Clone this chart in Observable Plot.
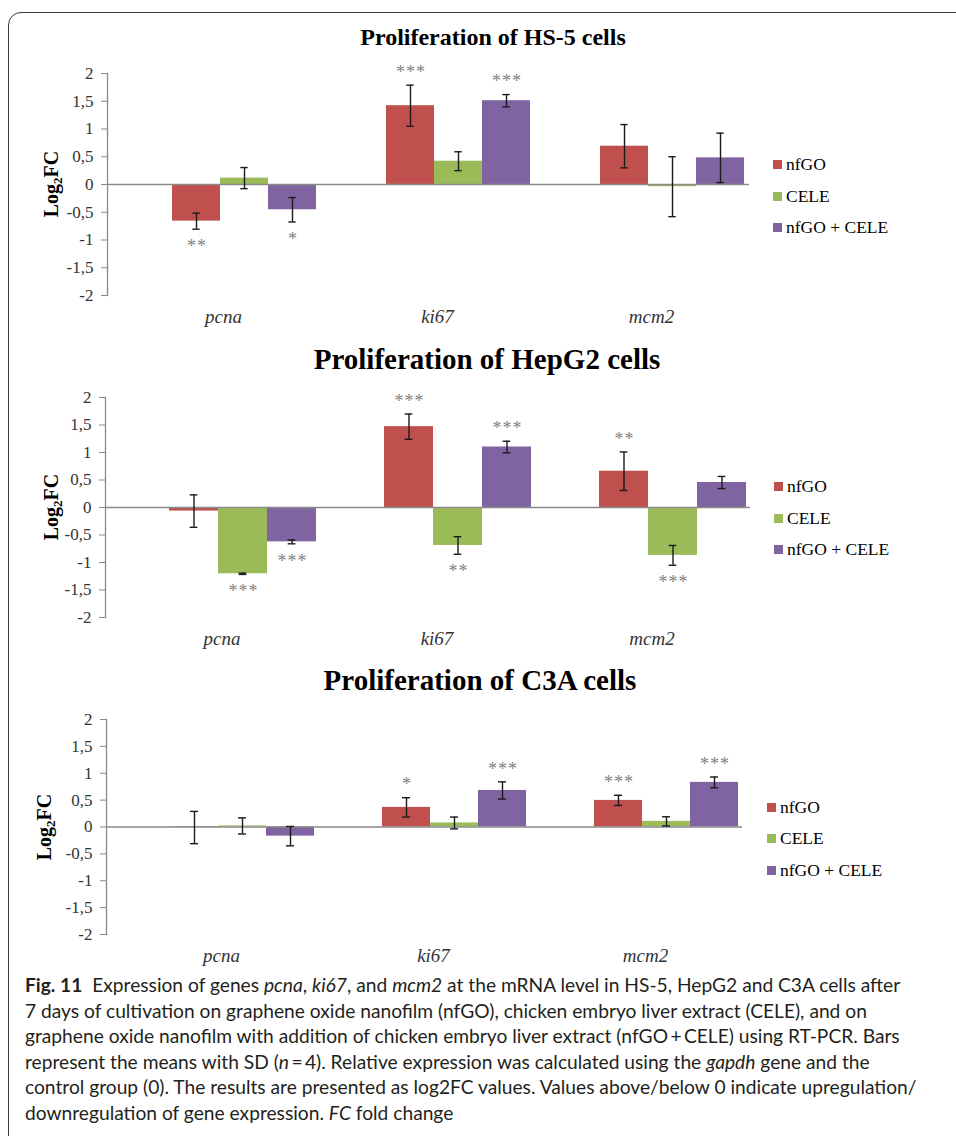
<!DOCTYPE html>
<html><head><meta charset="utf-8">
<script src="https://cdn.jsdelivr.net/npm/d3@7"></script>
<script src="https://cdn.jsdelivr.net/npm/@observablehq/plot@0.6"></script>
<style>
html,body{margin:0;padding:0;background:#fff;}
body{width:956px;height:1136px;position:relative;overflow:hidden;font-family:"Liberation Serif","Times New Roman",serif;}
#frame{position:absolute;left:8px;top:12px;width:1000px;height:1200px;border:1.4px solid #3a3a3a;border-top-left-radius:13px;box-sizing:border-box;}
.panel{position:absolute;left:0;}
.panel g[aria-label="text"] text{letter-spacing:1px;}
.title{position:absolute;width:600px;text-align:center;font-weight:bold;line-height:1;color:#000;white-space:nowrap;}
.ylab{position:absolute;font-weight:bold;font-size:20px;line-height:1;transform:translate(-50%,-50%) rotate(-90deg);white-space:nowrap;color:#000;}
.ylab sub{font-size:13px;vertical-align:-4px;line-height:0;}
.legend{position:absolute;font-size:17.5px;color:#000;}
.legend .row{display:flex;align-items:center;height:31.5px;line-height:1;white-space:nowrap;}
.legend .sw{width:9px;height:9px;margin-right:4px;flex:none;}
.cap{position:absolute;left:25px;top:972px;font-family:Lato,sans-serif;font-size:19.2px;line-height:25.6px;color:#231f20;white-space:nowrap;}
</style></head><body>
<div id="frame"></div>
<div id="root"></div>
<script>
// ---- data ----
const genes = ["pcna", "ki67", "mcm2"];
const treatments = ["nfGO", "CELE", "nfGO + CELE"];
const colors = ["#C0504D", "#9BBB59", "#8064A2"];
const yTicks = [-2, -1.5, -1, -0.5, 0, 0.5, 1, 1.5, 2];
const titles = ["Proliferation of HS-5 cells", "Proliferation of HepG2 cells", "Proliferation of C3A cells"];

// rows = genes (pcna, ki67, mcm2); columns = treatments (nfGO, CELE, nfGO + CELE)
const hs5Mean = [[-0.66, 0.115, -0.455], [1.42, 0.42, 1.51], [0.69, -0.04, 0.48]];
const hs5Sd = [[0.145, 0.19, 0.22], [0.37, 0.17, 0.11], [0.39, 0.54, 0.445]];
const hs5Sig = [["**", "", "*"], ["***", "", "***"], ["", "", ""]];

const hepg2Mean = [[-0.065, -1.205, -0.625], [1.47, -0.69, 1.10], [0.66, -0.87, 0.455]];
const hepg2Sd = [[0.295, 0.012, 0.035], [0.23, 0.16, 0.105], [0.35, 0.18, 0.11]];
const hepg2Sig = [["", "***", "***"], ["***", "**", "***"], ["**", "***", ""]];

const c3aMean = [[-0.01, 0.02, -0.17], [0.365, 0.075, 0.68], [0.495, 0.105, 0.83]];
const c3aSd = [[0.30, 0.15, 0.18], [0.18, 0.11, 0.16], [0.095, 0.085, 0.10]];
const c3aSig = [["", "", ""], ["*", "", "***"], ["***", "", "***"]];

// ---- layout ----
const layout = [
  {top: 60, height: 270, mt: 13, mb: 35, ml: 106, mr: 207, xr: [64, 210], titleSize: 24, titleTop: 25, titleCx: 493, legTop: 149, legLeft: 773, ylabX: 51},
  {top: 384, height: 268, mt: 13, mb: 35, ml: 105, mr: 206, xr: [63, 211], titleSize: 29, titleTop: 345, titleCx: 487, legTop: 471, legLeft: 774, ylabX: 51},
  {top: 706, height: 263, mt: 13, mb: 35, ml: 105, mr: 213, xr: [64, 208], titleSize: 29, titleTop: 666, titleCx: 480, legTop: 791.5, legLeft: 767, ylabX: 44}
];
const series = [[hs5Mean, hs5Sd, hs5Sig], [hepg2Mean, hepg2Sd, hepg2Sig], [c3aMean, c3aSd, c3aSig]];

function rows(mean, sd, sig) {
  return genes.flatMap((g, i) => treatments.map((t, j) => ({gene: g, treatment: t, mean: mean[i][j], sd: sd[i][j], sig: sig[i][j]})));
}
const fmt = d => String(d).replace(".", ",");
const root = document.getElementById("root");
const axisGray = "#8a8a8a";

series.forEach(([mean, sd, sig], k) => {
  const p = layout[k];
  const data = rows(mean, sd, sig);
  const hi = d => d.mean + d.sd, lo = d => d.mean - d.sd;
  const bw = p.xr[1] - p.xr[0];
  const capInset = (bw / 3 - 8) / 2;

  const title = document.createElement("div");
  title.className = "title";
  title.textContent = titles[k];
  title.style.fontSize = p.titleSize + "px";
  title.style.top = p.titleTop + "px";
  title.style.left = (p.titleCx - 300) + "px";
  root.appendChild(title);

  const chart = Plot.plot({
    width: 956, height: p.height,
    marginTop: p.mt, marginBottom: p.mb, marginLeft: p.ml, marginRight: p.mr,
    style: {fontFamily: '"Liberation Serif", "Times New Roman", serif', fontSize: "17px", color: "#333", background: "transparent", overflow: "visible"},
    fx: {domain: genes, padding: 0},
    x: {domain: treatments, range: [p.ml + p.xr[0], p.ml + p.xr[1]], padding: 0, axis: null},
    y: {domain: [-2, 2]},
    color: {domain: treatments, range: colors},
    marks: [
      Plot.barY(data, {fx: "gene", x: "treatment", y: "mean", fill: "treatment"}),
      Plot.ruleY([0], {stroke: axisGray, strokeWidth: 1.5}),
      Plot.frame({anchor: "left", facetAnchor: "left", stroke: axisGray, strokeWidth: 1.3}),
      Plot.ruleX(data, {fx: "gene", x: "treatment", y1: lo, y2: hi, stroke: "#1a1a1a", strokeWidth: 1.4}),
      Plot.tickY(data, {fx: "gene", x: "treatment", y: hi, stroke: "#1a1a1a", strokeWidth: 1.4, insetLeft: capInset, insetRight: capInset}),
      Plot.tickY(data, {fx: "gene", x: "treatment", y: lo, stroke: "#1a1a1a", strokeWidth: 1.4, insetLeft: capInset, insetRight: capInset}),
      Plot.text(data.filter(d => d.sig && d.mean >= 0), {fx: "gene", x: "treatment", y: hi, text: "sig", dy: -13, dx: 0.5, fill: "#7f7f7f", fontSize: 18}),
      Plot.text(data.filter(d => d.sig && d.mean < 0), {fx: "gene", x: "treatment", y: lo, text: "sig", dy: 17, dx: 0.5, fill: "#7f7f7f", fontSize: 18}),
      Plot.axisY({ticks: yTicks, tickFormat: fmt, tickSize: 6, tickPadding: 8, stroke: axisGray, fill: "#333", label: null, fontSize: 17}),
      Plot.axisFx({anchor: "bottom", tickSize: 0, tickPadding: 14, fontStyle: "italic", fontSize: 19, dx: 9, label: null, fill: "#333"})
    ]
  });
  const wrap = document.createElement("div");
  wrap.className = "panel";
  wrap.style.top = p.top + "px";
  wrap.appendChild(chart);
  root.appendChild(wrap);

  const ylab = document.createElement("div");
  ylab.className = "ylab";
  ylab.innerHTML = "Log<sub>2</sub>FC";
  ylab.style.left = p.ylabX + "px";
  ylab.style.top = (p.top + p.mt + (p.height - p.mt - p.mb) / 2) + "px";
  root.appendChild(ylab);

  const leg = document.createElement("div");
  leg.className = "legend";
  leg.style.left = p.legLeft + "px";
  leg.style.top = p.legTop + "px";
  treatments.forEach((t, j) => {
    const row = document.createElement("div");
    row.className = "row";
    const sw = document.createElement("span");
    sw.className = "sw";
    sw.style.background = colors[j];
    const lab = document.createElement("span");
    lab.textContent = t;
    row.appendChild(sw); row.appendChild(lab);
    leg.appendChild(row);
  });
  root.appendChild(leg);
});

const cap = document.createElement("div");
cap.className = "cap";
cap.innerHTML = '<b>Fig. 11</b>&nbsp; Expression of genes <i>pcna</i>, <i>ki67</i>, and <i>mcm2</i> at the mRNA level in HS-5, HepG2 and C3A cells after<br>' +
  '7 days of cultivation on graphene oxide nanofilm (nfGO), chicken embryo liver extract (CELE), and on<br>' +
  'graphene oxide nanofilm with addition of chicken embryo liver extract (nfGO\u2009+\u2009CELE) using RT-PCR. Bars<br>' +
  'represent the means with SD (<i>n</i>\u2009=\u20094). Relative expression was calculated using the <i>gapdh</i> gene and the<br>' +
  'control group (0). The results are presented as log2FC values. Values above/below 0 indicate upregulation/<br>' +
  'downregulation of gene expression. <i>FC</i> fold change';
root.appendChild(cap);
</script>
</body></html>
